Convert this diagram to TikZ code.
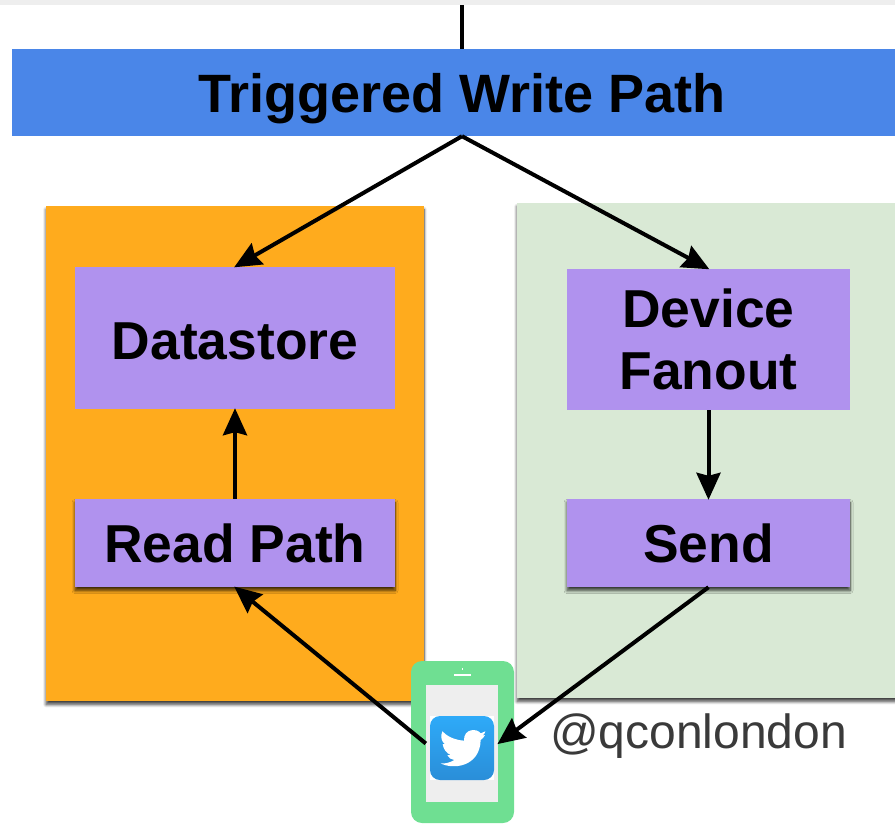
\documentclass[tikz,border=0pt]{standalone}
\usepackage{fontspec}
\setmainfont{Liberation Sans}
\usetikzlibrary{arrows.meta,positioning,shadows.blur}
\definecolor{pathblue}{HTML}{4A86E8}
\definecolor{readorange}{HTML}{FFAB1D}
\definecolor{sendgreen}{HTML}{D9E9D5}
\definecolor{stagepurple}{HTML}{B092EE}
\definecolor{phonegreen}{HTML}{6FDF92}
\definecolor{screengrey}{HTML}{EEEEEE}
\definecolor{handlegrey}{HTML}{3A3A3A}
\newcommand{\bigbold}{\fontsize{53.4}{62}\selectfont\bfseries}

\begin{document}
\begin{tikzpicture}[x=1pt,y=-1pt,
    softshadow/.style={blur shadow={shadow xshift=0pt,shadow yshift=-3.5pt,shadow blur radius=3pt,shadow blur steps=8,shadow opacity=75}},
    panel/.style={inner sep=0pt,softshadow},
    stagebox/.style={fill=stagepurple,inner sep=0pt,align=center,text=black,font=\bigbold},
    flow/.style={line width=4pt,-{Stealth[length=27pt,width=24pt,inset=3pt]},shorten >=-1pt}]
              \clip (0,0) rectangle (895,823);
              \node[fill=screengrey,inner sep=0pt,minimum width=895pt,minimum height=5pt] (topbar) at (447.5,2.5) {};
              \node[stagebox,fill=pathblue,font=\fontsize{54}{62}\selectfont\bfseries,minimum width=900pt,minimum height=87pt,text height=39.6pt,text depth=0pt] (writepath) at (462,92.5) {Triggered Write Path};
              \node[panel,fill=readorange,minimum width=378pt,minimum height=495pt] (readpanel) at (235,453.5) {};
              \node[panel,fill=sendgreen,minimum width=400pt,minimum height=495pt] (sendpanel) at (717,450.5) {};
              \node[stagebox,minimum width=320pt,minimum height=142pt,text height=42pt,text depth=0pt] (datastore) at (235,338) {Datastore};
              \node[stagebox,minimum width=283pt,minimum height=141pt] (fanout) at (708.5,339.5) {\raisebox{-2pt}{Device}\\\raisebox{-2pt}{Fanout}};
              \node[stagebox,softshadow,minimum width=320pt,minimum height=88pt] (readpath) at (235,543) {Read Path};
              \node[stagebox,softshadow,minimum width=283pt,minimum height=88pt] (send) at (708.5,543) {Send};
              \node[fill=phonegreen,rounded corners=11pt,inner sep=0pt,minimum width=103pt,minimum height=162pt] (phone) at (462.5,742) {};
              \node[fill=screengrey,inner sep=0pt,minimum width=72pt,minimum height=117pt] (screen) at (462,743.5) {};
              \node[fill=white,inner sep=0pt,minimum size=64pt] (iconback) at (462,748) {};
              \node[inner sep=0pt,minimum size=64pt,rounded corners=10pt,
                    top color={rgb,255:red,46;green,170;blue,248},bottom color={rgb,255:red,42;green,142;blue,216}] (icon) at (462,748) {};
              \node[fill=white,inner sep=0pt,minimum width=17pt,minimum height=1.6pt] (speaker) at (462.5,674.8) {};
              \node[fill=white,inner sep=0pt,minimum size=1.6pt] (camera) at (462.3,669) {};
              \fill[white,shift={(390pt,-640pt)},x=0.3333pt,y=-0.3333pt]
                (222,302) .. controls (195,300) and (172,290) .. (157,274)
                .. controls (150,290) and (155,305) .. (165,313)
                -- (158,312) .. controls (160,328) and (170,340) .. (182,345)
                -- (172,346) .. controls (176,355) and (184,358) .. (193,360)
                .. controls (180,368) and (165,372) .. (152,370)
                .. controls (190,390) and (270,380) .. (272,300)
                .. controls (278,296) and (283,290) .. (285,285)
                -- (278,287) .. controls (282,284) and (285,279) .. (286,274)
                -- (272,280) .. controls (262,264) and (220,265) .. (222,302) -- cycle;
              \node[text=handlegrey,font=\fontsize{48}{50}\selectfont,inner sep=0pt] (handle) at (698.5,736) {@qconlondon};
              \coordinate (topend) at (462,5);
              \draw[line width=4pt] (topend) -- (topend |- writepath.north);
              \draw[flow] (writepath.south) -- (datastore.north);
              \draw[flow] (writepath.south) -- (fanout.north);
              \draw[flow] (readpath.north) -- (datastore.south);
              \draw[flow] (fanout.south) -- (send.north);
              \draw[flow] (send.south) -- (screen.east);
              \draw[flow] (screen.west) -- (readpath.south);
            \end{tikzpicture}
\end{document}
